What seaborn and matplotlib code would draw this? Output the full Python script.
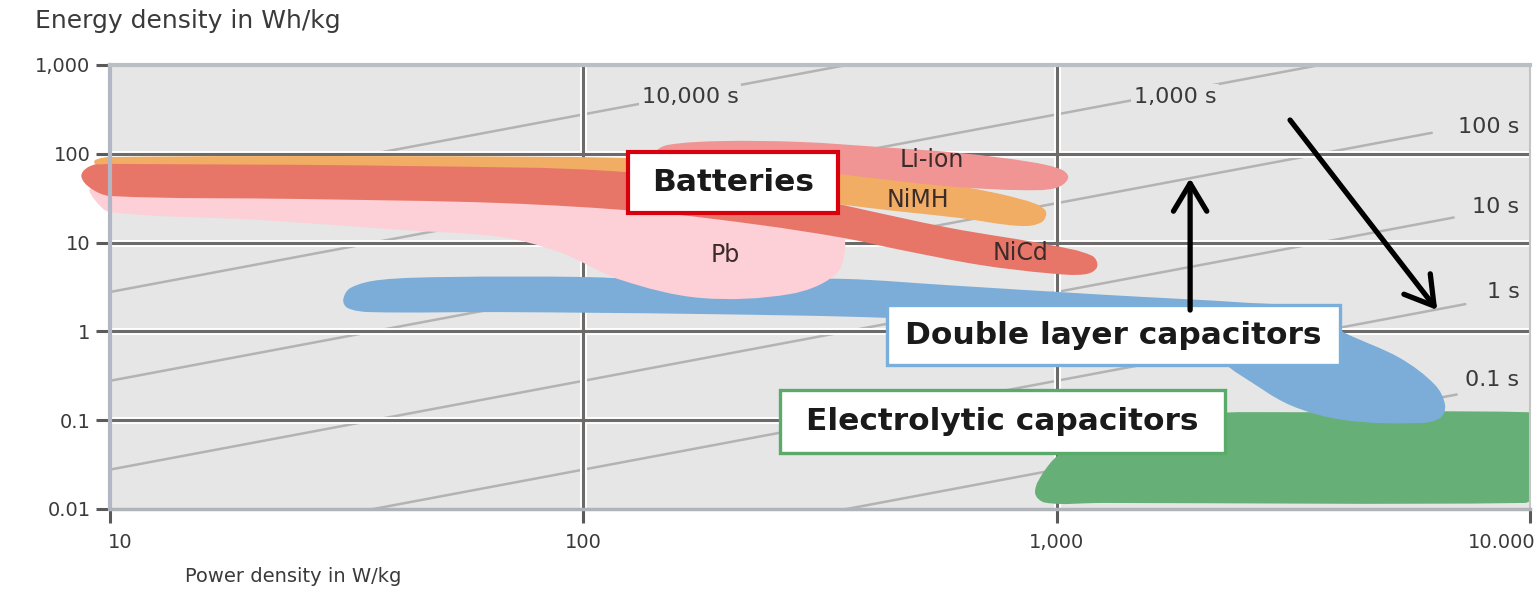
import numpy as np
import pandas as pd
import matplotlib
matplotlib.use("Agg")
import matplotlib.pyplot as plt
import seaborn as sns
from matplotlib.path import Path
from matplotlib.patches import PathPatch, Rectangle
from matplotlib.ticker import FixedLocator, FixedFormatter, NullLocator
import matplotlib.transforms as mtransforms

# ---------------- data ----------------
x_ticks = [10, 100, 1000, 10000]
x_tick_labels = ["10", "100", "1,000", "10.000"]
y_ticks = [0.01, 0.1, 1, 10, 100, 1000]
y_tick_labels = ["0.01", "0.1", "1", "10", "100", "1,000"]

time_constants = [10000, 1000, 100, 10, 1, 0.1]          # seconds
time_labels = ["10,000 s", "1,000 s", "100 s", "10 s", "1 s", "0.1 s"]
time_line_power_start = [10, 10, 10, 10, 10, 10]
time_line_power_end = [360, 3600, 6200, 6900, 7300, 7000]

# region outlines (power W/kg, energy Wh/kg)
liion_power = [142, 151, 195, 287, 424, 625, 879, 1026, 1057, 993, 837, 625, 467, 349, 236, 160, 144]
liion_energy = [105, 126, 139, 136, 119, 102, 81, 66, 53, 41, 39, 42, 49, 59, 73, 85, 92]

nimh_power = [9.3, 10, 41, 124, 236, 384, 625, 837, 945, 931, 837, 625, 403, 260, 124, 41, 10, 9.3]
nimh_energy = [85, 92, 94, 90, 79, 62, 43, 31, 23.3, 17.1, 15.4, 18.9, 24.5, 33.5, 62, 73, 77, 77]

nicd_power = [8.7, 9.0, 9.8, 25.2, 66.7, 124, 236, 354, 596, 968, 1188, 1217, 1148, 968, 689, 467,
              354, 236, 138, 66.7, 25.2, 10, 9.1]
nicd_energy = [56, 71, 79, 81, 79, 73, 44.5, 26.5, 14.6, 9.4, 7.1, 5.3, 4.4, 4.5, 5.6, 8.3,
               11.3, 15.8, 22.1, 27.9, 31, 33.5, 41]

pb_power = [9.1, 9.3, 10, 20.7, 41, 66.7, 89, 120, 177, 274, 340, 357, 349, 316, 177, 66.7, 25.2, 10]
pb_energy = [41, 30, 22.1, 18, 13.9, 11.6, 7.8, 3.8, 2.38, 2.64, 4.3, 8.3, 15.8, 22.1, 26.5, 31.8, 35.3, 39]

dlc_power = [31.1, 32.2, 37.2, 52.3, 100, 145, 236, 357, 596, 1236, 2564, 3268, 4066, 5316, 6303,
             6615, 6457, 5861, 4066, 3113, 2441, 2009, 1236, 759, 438, 176.5, 66.7, 35.4, 31.8]
dlc_energy = [2.26, 3.08, 3.8, 4.1, 4.1, 3.8, 3.8, 3.9, 3.3, 2.6, 2.09, 1.83, 0.96, 0.50, 0.249,
              0.148, 0.106, 0.093, 0.10, 0.148, 0.323, 0.62, 0.91, 1.18, 1.42, 1.57, 1.65, 1.65, 1.83]

elco_power = [900, 945, 1026, 1236, 2009, 3268, 9910, 10100, 10100, 9763, 1236, 945]
elco_energy = [0.0155, 0.0275, 0.0438, 0.0776, 0.1175, 0.123, 0.123, 0.106, 0.01365, 0.0117, 0.0117, 0.0118]

# ---------------- style ----------------
sns.set_theme(style="white")
plt.rcParams["font.family"] = ["DejaVu Sans"]

BG = "#e6e6e6"
TXT = "#3a3a3a"

fig = plt.figure(figsize=(15.38, 5.92), dpi=100)
ax = fig.add_axes([110 / 1538, 1 - 509 / 592, 1420 / 1538, 444 / 592])
ax.set_facecolor(BG)
ax.set_xscale("log")
ax.set_yscale("log")
ax.set_xlim(10, 10000)
ax.set_ylim(0.01, 1000)

# time-constant lines
rows = []
for t, p0, p1 in zip(time_constants, time_line_power_start, time_line_power_end):
    for p in (p0, p1):
        rows.append({"t": t, "power": p, "energy": p * t / 3600.0})
df_t = pd.DataFrame(rows)
sns.lineplot(data=df_t, x="power", y="energy", units="t", estimator=None,
             color="#b3b3b3", linewidth=1.8, ax=ax, legend=False, zorder=1, sort=False)
ax.set_xscale("log")
ax.set_yscale("log")
ax.set_xlim(10, 10000)
ax.set_ylim(0.01, 1000)

# grid with white halo
for yv in [0.1, 1, 10, 100]:
    ax.axhline(yv, color="white", lw=5.0, zorder=1.2)
    ax.axhline(yv, color="#6d6a6a", lw=2.2, zorder=1.3)
for xv in [100, 1000]:
    ax.axvline(xv, color="white", lw=5.0, zorder=1.2)
    ax.axvline(xv, color="#6d6a6a", lw=2.2, zorder=1.3)


def smooth_closed_path(px, py):
    """Closed smooth outline through the given points (Bezier, log space)."""
    sx, sy = 473.3, 88.8
    pts = np.column_stack([np.log10(px) * sx, np.log10(py) * sy])
    n = len(pts)
    tang = []
    for i in range(n):
        d = pts[(i + 1) % n] - pts[(i - 1) % n]
        tang.append(d / np.hypot(*d))
    verts = [pts[0]]
    codes = [Path.MOVETO]
    for i in range(n):
        p1 = pts[i]
        p2 = pts[(i + 1) % n]
        L = np.hypot(*(p2 - p1))
        verts += [p1 + tang[i] * L / 3.0, p2 - tang[(i + 1) % n] * L / 3.0, p2]
        codes += [Path.CURVE4] * 3
    v = np.array(verts)
    return Path(np.column_stack([10 ** (v[:, 0] / sx), 10 ** (v[:, 1] / sy)]), codes)


regions = [
    (elco_power, elco_energy, "#66b078", 2.0, True),
    (dlc_power, dlc_energy, "#7badd8", 2.1, True),
    (pb_power, pb_energy, "#fcd0d6", 2.2, False),
    (nicd_power, nicd_energy, "#e87668", 2.3, False),
    (nimh_power, nimh_energy, "#f1ad64", 2.4, False),
    (liion_power, liion_energy, "#f09494", 2.5, True),
]
for pw, en, col, z, clip in regions:
    patch = PathPatch(smooth_closed_path(pw, en), facecolor=col, edgecolor="none",
                      transform=ax.transData, zorder=z, clip_on=clip)
    ax.add_patch(patch)

# region labels
lab_kw = dict(fontsize=17, color="#3b2b2b", ha="center", va="center", zorder=3)
ax.text(546, 85, "Li-ion", **lab_kw)
ax.text(509, 30, "NiMH", **lab_kw)
ax.text(837, 7.6, "NiCd", **lab_kw)
ax.text(199, 7.2, "Pb", **lab_kw)

# time constant labels
tbox = dict(boxstyle="square,pad=0.12", fc=BG, ec="none")
tl_kw = dict(fontsize=16, color="#3a3a3a", va="center", zorder=4, bbox=tbox)
ax.text(168, 436, time_labels[0], ha="center", **tl_kw)
ax.text(1778, 436, time_labels[1], ha="center", **tl_kw)
ax.text(9500, 200, time_labels[2], ha="right", **tl_kw)
ax.text(9500, 25.2, time_labels[3], ha="right", **tl_kw)
ax.text(9500, 2.78, time_labels[4], ha="right", **tl_kw)
ax.text(9500, 0.284, time_labels[5], ha="right", **tl_kw)

# category boxes
box_font = dict(fontsize=22.5, fontweight="bold", color="#1a1a1a", ha="center",
                va="center", zorder=6)
ax.add_patch(Rectangle((124, 21.5), 345 - 124, 105 - 21.5, facecolor="white",
                       edgecolor="#d9000d", lw=3.0, zorder=5))
ax.text(207, 47.5, "Batteries", **box_font)
ax.add_patch(Rectangle((438, 0.42), 3972 - 438, 1.98 - 0.42, facecolor="white",
                       edgecolor="#7aaedb", lw=2.4, zorder=5))
ax.text(1319, 0.91, "Double layer capacitors", **box_font)
ax.add_patch(Rectangle((260, 0.0428), 2270 - 260, 0.219 - 0.0428, facecolor="white",
                       edgecolor="#5aaa6a", lw=2.4, zorder=5))
ax.text(768, 0.0955, "Electrolytic capacitors", **box_font)

# arrows
arr = dict(arrowstyle="->,head_length=1.0,head_width=0.6", color="black", lw=3.8,
           mutation_scale=20, shrinkA=0, shrinkB=0)
ax.annotate("", xy=(1914, 53), xytext=(1914, 1.74), arrowprops=arr, zorder=7)
ax.annotate("", xy=(6368, 1.74), xytext=(3112, 240), arrowprops=arr, zorder=7)

# spines
for s in ["top", "bottom", "left", "right"]:
    ax.spines[s].set_visible(True)
    ax.spines[s].set_zorder(4)
ax.spines["top"].set_color("#b9bfc3")
ax.spines["top"].set_linewidth(3.0)
ax.spines["bottom"].set_color("#b0b4b8")
ax.spines["bottom"].set_linewidth(2.5)
ax.spines["left"].set_color("#b3b7c5")
ax.spines["left"].set_linewidth(3.0)
ax.spines["right"].set_color("#c4c4c4")
ax.spines["right"].set_linewidth(1.5)

# ticks
ax.xaxis.set_major_locator(FixedLocator(x_ticks))
ax.xaxis.set_major_formatter(FixedFormatter(x_tick_labels))
ax.yaxis.set_major_locator(FixedLocator(y_ticks))
ax.yaxis.set_major_formatter(FixedFormatter(y_tick_labels))
ax.xaxis.set_minor_locator(NullLocator())
ax.yaxis.set_minor_locator(NullLocator())
ax.tick_params(axis="both", which="major", length=10, width=2.2, color="#5a5a5a",
               labelsize=14, labelcolor=TXT, bottom=True, left=True)
ax.tick_params(axis="y", pad=4)
ax.tick_params(axis="x", pad=7)
xlabels = ax.get_xticklabels()
xlabels[-1].set_horizontalalignment("right")
xlabels[-1].set_transform(xlabels[-1].get_transform() +
                          mtransforms.ScaledTranslation(5 / 100, 0, fig.dpi_scale_trans))
xlabels[0].set_transform(xlabels[0].get_transform() +
                         mtransforms.ScaledTranslation(10 / 100, 0, fig.dpi_scale_trans))
ax.set_xlabel("")
ax.set_ylabel("")

fig.text(35 / 1538, 1 - 21 / 592, "Energy density in Wh/kg", fontsize=18, color=TXT,
         ha="left", va="center")
fig.text(185 / 1538, 1 - 577 / 592, "Power density in W/kg", fontsize=14, color=TXT,
         ha="left", va="center")

fig.savefig("out.png", dpi=100, facecolor="white")
